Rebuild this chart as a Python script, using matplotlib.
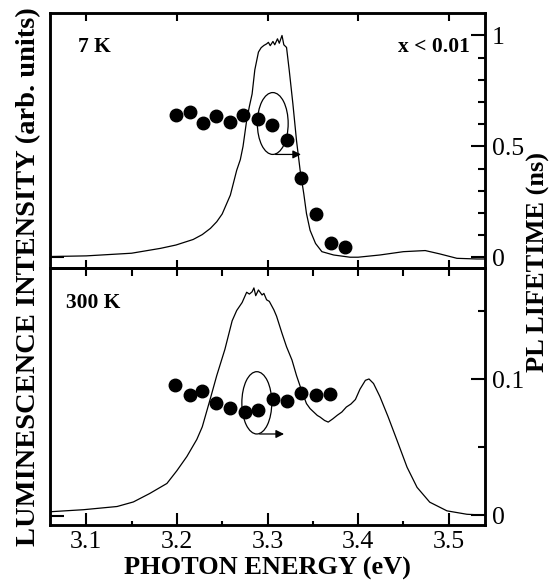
import matplotlib
matplotlib.use("Agg")
import matplotlib.pyplot as plt
import numpy as np
from matplotlib.patches import Ellipse

plt.rcParams['font.family'] = ['Liberation Serif', 'DejaVu Serif']

# 7 K spectrum (normalised intensity)
e_7k = [3.060, 3.100, 3.150, 3.182, 3.199, 3.218, 3.228, 3.237, 3.244, 3.250,
        3.259, 3.266, 3.270, 3.273, 3.277, 3.280, 3.283, 3.286, 3.290, 3.293,
        3.296, 3.299, 3.301, 3.303, 3.306, 3.308, 3.311, 3.313, 3.316, 3.318,
        3.321, 3.324, 3.328, 3.332, 3.336, 3.340, 3.343, 3.347, 3.353, 3.360,
        3.373, 3.391, 3.400, 3.424, 3.450, 3.474, 3.490, 3.509, 3.531, 3.540]
i_7k = [0.003, 0.006, 0.018, 0.040, 0.055, 0.080, 0.102, 0.130, 0.160, 0.195,
        0.280, 0.392, 0.440, 0.500, 0.617, 0.680, 0.736, 0.845, 0.925, 0.945,
        0.955, 0.962, 0.969, 0.954, 0.973, 0.958, 0.985, 0.965, 1.000, 0.958,
        0.946, 0.842, 0.692, 0.526, 0.392, 0.287, 0.197, 0.121, 0.062, 0.025,
        0.010, 0.000, 0.000, 0.010, 0.025, 0.030, 0.015, -0.005, -0.008, -0.008]

# 7 K lifetimes (ns)
e_tau_7k = [3.199, 3.214, 3.229, 3.243, 3.259, 3.273, 3.290, 3.305, 3.321,
            3.337, 3.353, 3.370, 3.386]
tau_7k = [0.640, 0.653, 0.605, 0.635, 0.609, 0.640, 0.622, 0.595, 0.530,
          0.355, 0.197, 0.064, 0.044]

# 300 K spectrum (normalised intensity)
e_300k = [3.060, 3.097, 3.134, 3.152, 3.170, 3.189, 3.200, 3.211, 3.222, 3.228,
          3.237, 3.244, 3.253, 3.261, 3.266, 3.272, 3.277, 3.280, 3.283, 3.285,
          3.287, 3.290, 3.294, 3.296, 3.299, 3.302, 3.307, 3.310, 3.316, 3.321,
          3.327, 3.332, 3.338, 3.343, 3.347, 3.351, 3.355, 3.358, 3.363, 3.367,
          3.372, 3.377, 3.382, 3.387, 3.392, 3.397, 3.402, 3.408, 3.412, 3.417,
          3.424, 3.433, 3.443, 3.454, 3.465, 3.479, 3.498, 3.520, 3.540]
i_300k = [0.018, 0.027, 0.041, 0.061, 0.098, 0.142, 0.198, 0.260, 0.335, 0.390,
          0.515, 0.615, 0.730, 0.855, 0.900, 0.935, 0.980, 0.972, 0.982, 0.999,
          0.965, 0.990, 0.968, 0.975, 0.947, 0.940, 0.903, 0.875, 0.800, 0.741,
          0.683, 0.615, 0.545, 0.492, 0.470, 0.455, 0.440, 0.433, 0.418, 0.411,
          0.425, 0.441, 0.455, 0.477, 0.490, 0.510, 0.555, 0.594, 0.600, 0.580,
          0.523, 0.435, 0.330, 0.213, 0.125, 0.060, 0.022, 0.007, 0.003]

# 300 K lifetimes (ns)
e_tau_300k = [3.198, 3.214, 3.228, 3.243, 3.259, 3.275, 3.289, 3.306, 3.321,
              3.337, 3.353, 3.369]
tau_300k = [0.0961, 0.0882, 0.0912, 0.0826, 0.0789, 0.0760, 0.0772, 0.0855,
            0.0838, 0.0899, 0.0882, 0.0895]

fig = plt.figure(figsize=(5.58, 5.83), dpi=100)
ax1 = fig.add_axes([0.0896, 0.5398, 0.7796, 0.4374])
ax2 = fig.add_axes([0.0896, 0.0995, 0.7796, 0.4403], sharex=ax1)
ax1r = ax1.twinx()
ax2r = ax2.twinx()

ax1.plot(e_7k, i_7k, 'k-', lw=0.9)
ax1r.plot(e_tau_7k, tau_7k, 'ko', ms=9)
ax2.plot(e_300k, i_300k, 'k-', lw=0.9)
ax2r.plot(e_tau_300k, tau_300k, 'ko', ms=9)

ax1.set_xlim(3.06, 3.54)
ax1.set_ylim(-0.05, 1.1)
ax1r.set_ylim(-0.05, 1.1)
ax2.set_ylim(-0.04, 1.085)
ax2r.set_ylim(-0.0071, 0.1816)

# ellipses + arrows pointing to the right axis
ax1r.add_patch(Ellipse((3.3058, 0.603), 0.034, 0.279, fill=False, lw=0.9))
ax1r.annotate('', xy=(3.340, 0.4635), xytext=(3.3058, 0.4635),
              arrowprops=dict(arrowstyle='-|>', lw=0.9, color='k', mutation_scale=12))
ax2r.add_patch(Ellipse((3.2882, 0.0827), 0.033, 0.0458, fill=False, lw=0.9))
ax2r.annotate('', xy=(3.3213, 0.0598), xytext=(3.2882, 0.0598),
              arrowprops=dict(arrowstyle='-|>', lw=0.9, color='k', mutation_scale=12))

ax1r.text(3.091, 0.946, '7 K', fontsize=15.5, fontweight='bold', va='center')
ax1r.text(3.5234, 0.946, 'x < 0.01', fontsize=15.5, fontweight='bold', va='center', ha='right')
ax2r.text(3.0776, 0.1559, '300 K', fontsize=15.5, fontweight='bold', va='center')

for a in [ax1, ax2, ax1r, ax2r]:
    for s in a.spines.values():
        s.set_linewidth(1.8)

# left axes: only a zero tick
for a in [ax1, ax2]:
    a.set_yticks([0])
    a.tick_params(axis='y', direction='in', length=10, width=1.5, labelleft=False, right=False)

ax1r.set_yticks([0, 0.5, 1])
ax1r.set_yticklabels(['0', '0.5', '1'])
ax1r.set_yticks(np.arange(0, 1.05, 0.1), minor=True)
ax2r.set_yticks([0, 0.1])
ax2r.set_yticklabels(['0', '0.1'])
ax2r.set_yticks([0.05, 0.15], minor=True)
for a in [ax1r, ax2r]:
    a.tick_params(axis='y', which='major', direction='in', length=10, width=1.5, labelsize=18.5, pad=5)
    a.tick_params(axis='y', which='minor', direction='in', length=5, width=1.5)

# x ticks
ax1.set_xticks(np.arange(3.1, 3.51, 0.05))
ax1.tick_params(axis='x', direction='in', length=6, width=1.5, top=True, bottom=True, labelbottom=False)
ax2.set_xticks([3.1, 3.2, 3.3, 3.4, 3.5])
ax2.set_xticklabels(['3.1', '3.2', '3.3', '3.4', '3.5'])
ax2.set_xticks([3.15, 3.25, 3.35, 3.45], minor=True)
ax2.tick_params(axis='x', which='major', direction='in', length=9, width=1.5, labelsize=18.5, pad=4, top=False)
ax2.tick_params(axis='x', which='minor', direction='in', length=3, width=1.5, top=False)
sec = ax2.secondary_xaxis('top')
sec.set_xticks(np.arange(3.1, 3.51, 0.05))
sec.tick_params(direction='in', length=6, width=1.5, labeltop=False)
sec.spines['top'].set_linewidth(1.8)

ax2.set_xlabel('PHOTON ENERGY (eV)', fontsize=19, fontweight='bold', labelpad=3)
fig.text(0.052, 0.525, 'LUMINESCENCE INTENSITY (arb. units)', fontsize=20.5, fontweight='bold',
         rotation=90, ha='center', va='center')
fig.text(0.965, 0.55, 'PL LIFETIME (ns)', fontsize=19, fontweight='bold',
         rotation=90, ha='center', va='center')

fig.savefig('out.png', dpi=100)
